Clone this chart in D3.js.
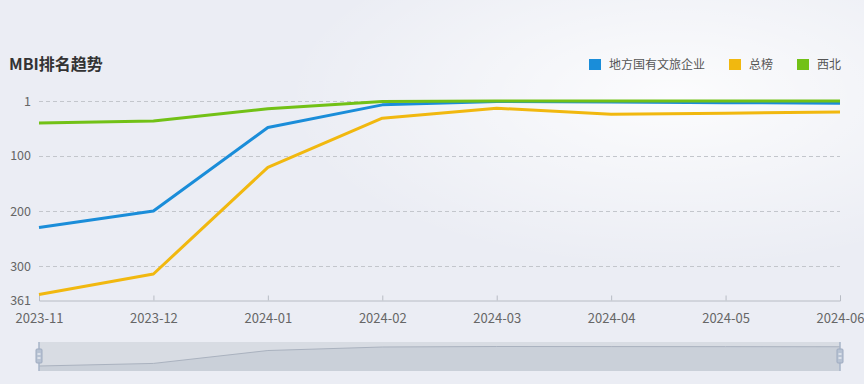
<!DOCTYPE html>
<html><head><meta charset="utf-8">
<script src="https://cdn.jsdelivr.net/npm/d3@7"></script>
<style>
html,body{margin:0;padding:0;background:#ebedf4;}
svg{display:block;font-family:"Microsoft YaHei","Noto Sans CJK SC","Noto Sans",sans-serif;}
</style></head>
<body><svg id="c" width="864" height="384"></svg>
<script>
const months = ["2023-11","2023-12","2024-01","2024-02","2024-03","2024-04","2024-05","2024-06"];
const seriesNames = ["地方国有文旅企业","总榜","西北"];
const seriesColors = ["#1a8dd9","#f1b80f","#72c116"];
const localSOE = [230, 200, 49, 8, 2, 3, 4, 5];
const overall = [351, 314, 121, 32, 14, 25, 23, 21];
const northwest = [41, 37, 15, 2, 1, 1, 1, 1];
const yTicks = [1, 100, 200, 300, 361];
const seriesData = [localSOE, overall, northwest];

const svg = d3.select("#c");
const defs = svg.append("defs");
const rg = defs.append("radialGradient").attr("id","glow").attr("cx","0.78").attr("cy","0.25").attr("r","0.45");
rg.append("stop").attr("offset","0").attr("stop-color","#ffffff").attr("stop-opacity",0.85);
rg.append("stop").attr("offset","1").attr("stop-color","#ffffff").attr("stop-opacity",0);
svg.append("rect").attr("width",864).attr("height",384).attr("fill","#ebedf4");
svg.append("rect").attr("width",864).attr("height",384).attr("fill","url(#glow)");

const x = d3.scalePoint().domain(months).range([39, 840]);
const y = d3.scaleLinear().domain([1, 361]).range([101, 300]);

svg.append("text").attr("x",9).attr("y",70).attr("font-size",16).attr("font-weight","bold")
  .attr("fill","#333").text("MBI排名趋势");

const legX = [589, 729, 797];
seriesNames.forEach((n,i)=>{
  svg.append("rect").attr("x",legX[i]).attr("y",59).attr("width",12).attr("height",11).attr("fill",seriesColors[i]);
  svg.append("text").attr("x",legX[i]+20).attr("y",68.5).attr("font-size",12).attr("fill","#555").text(n);
});

const g = svg.append("g");
yTicks.filter(t=>t!==361).forEach(t=>{
  g.append("line").attr("x1",39).attr("x2",840).attr("y1",Math.round(y(t))+0.5).attr("y2",Math.round(y(t))+0.5)
   .attr("stroke","#c3c6cc").attr("stroke-dasharray","4,3");
});
yTicks.forEach(t=>{
  g.append("text").attr("x",31).attr("y",y(t)+4.5).attr("text-anchor","end").attr("font-size",12.5)
   .attr("fill","#666").text(t);
});
const xAxis = d3.axisBottom(x).tickSize(-5).tickPadding(13);
const ax = svg.append("g").attr("transform","translate(0,300.5)").call(xAxis);
ax.select(".domain").attr("stroke","#b8bcc4");
ax.selectAll(".tick line").attr("stroke","#b8bcc4");
ax.selectAll(".tick text").attr("fill","#666").attr("font-size",13).attr("font-family","'Microsoft YaHei','Noto Sans CJK SC','Noto Sans',sans-serif");

const line = d3.line().x((d,i)=>x(months[i])).y(d=>y(d));
[1,0,2].forEach(i=>{
  svg.append("path").datum(seriesData[i]).attr("d",line).attr("fill","none")
    .attr("stroke",seriesColors[i]).attr("stroke-width",3).attr("stroke-linejoin","round");
});

const zx = d3.scalePoint().domain(months).range([39, 840]);
const zy = d3.scaleLinear().domain([d3.min(localSOE), d3.max(localSOE)]).range([346.5, 366]);
svg.append("rect").attr("x",39).attr("y",342).attr("width",801).attr("height",29).attr("fill","#d8dce3");
const area = d3.area().x((d,i)=>zx(months[i])).y0(371).y1(d=>zy(d));
svg.append("path").datum(localSOE).attr("d",area).attr("fill","#cad0d9");
svg.append("path").datum(localSOE).attr("d",d3.line().x((d,i)=>zx(months[i])).y(d=>zy(d)))
  .attr("fill","none").attr("stroke","#aab2bf").attr("stroke-width",1);
[39,840].forEach(hx=>{
  svg.append("line").attr("x1",hx).attr("x2",hx).attr("y1",342).attr("y2",371).attr("stroke","#a7b4c8").attr("stroke-width",1.5);
  svg.append("rect").attr("x",hx-3).attr("y",349).attr("width",6).attr("height",14).attr("rx",1)
    .attr("fill","#b7c2d3").attr("stroke","#9eabc0");
  svg.append("line").attr("x1",hx-1.5).attr("x2",hx+1.5).attr("y1",354).attr("y2",354).attr("stroke","#fff");
  svg.append("line").attr("x1",hx-1.5).attr("x2",hx+1.5).attr("y1",358).attr("y2",358).attr("stroke","#fff");
});
</script></body></html>
